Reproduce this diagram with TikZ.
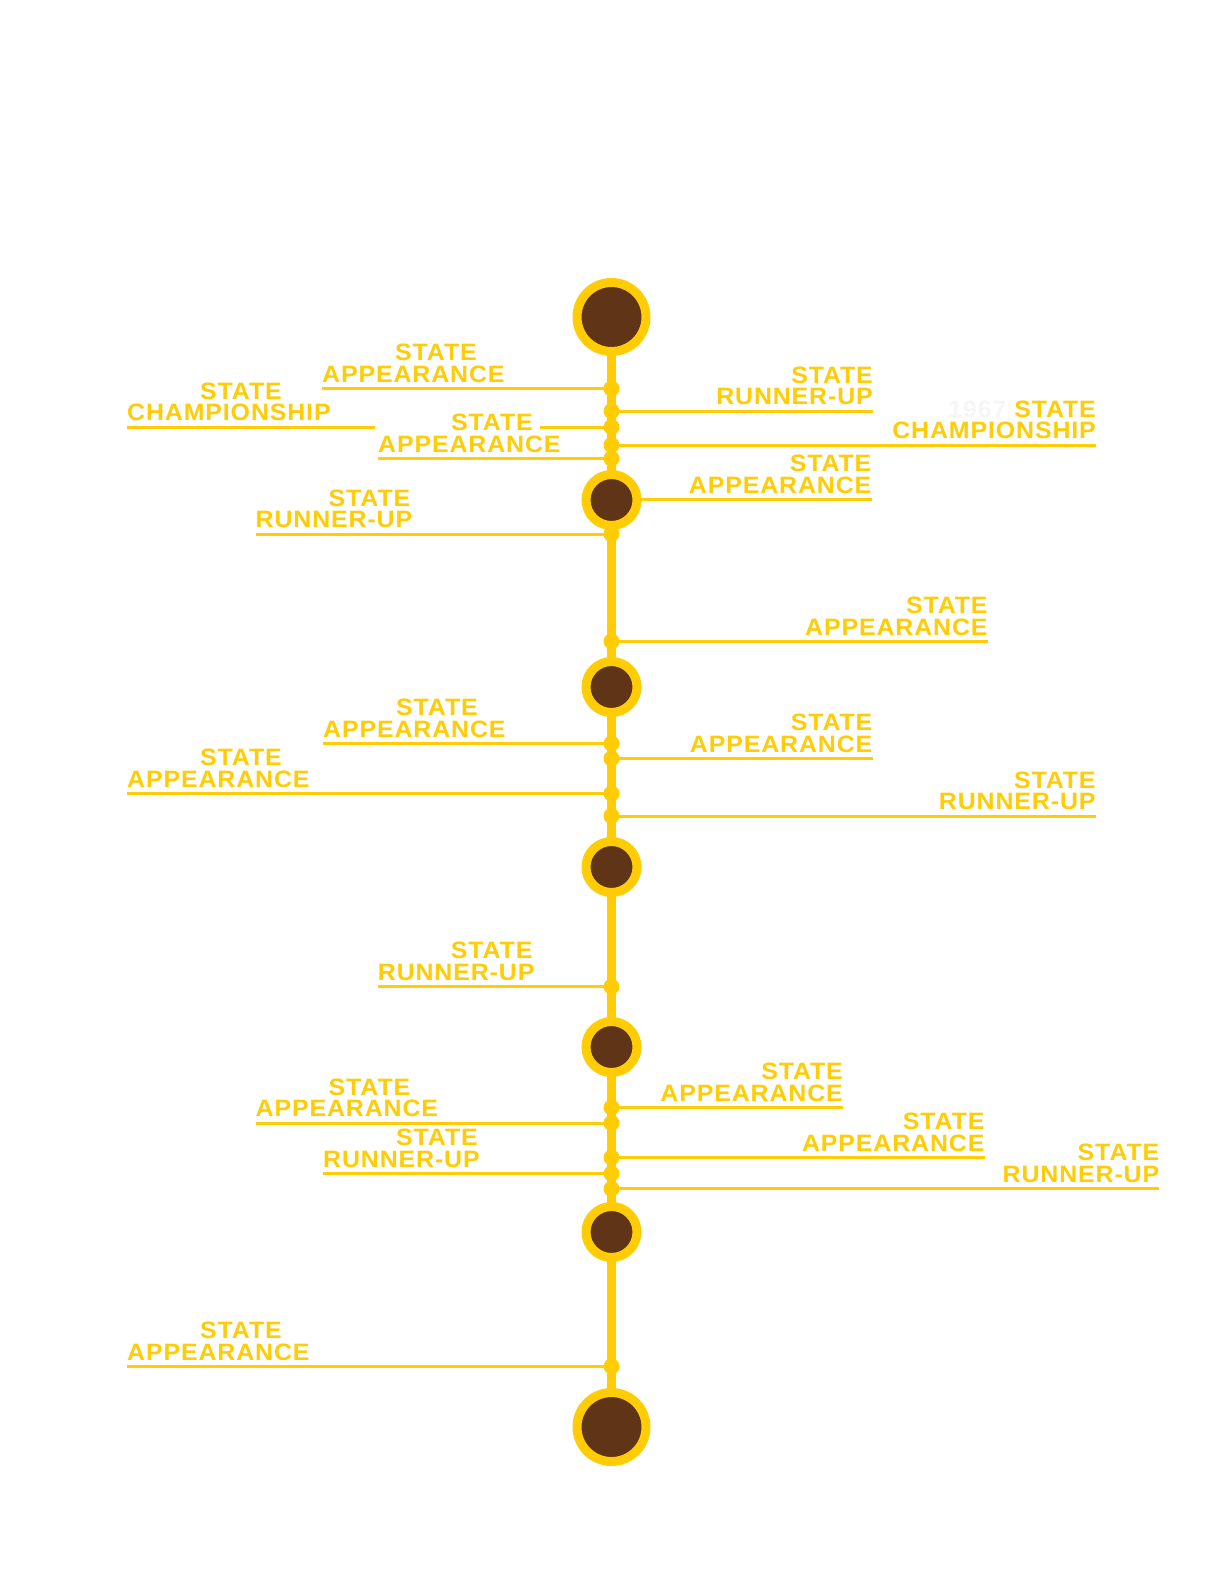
\documentclass[tikz,border=0pt]{standalone}
\usepackage{fontspec}
\usetikzlibrary{backgrounds}
\newfontfamily\labfont{Liberation Sans}[FakeStretch=1.05,LetterSpace=3.8]
\definecolor{gold}{RGB}{255,204,5}
\definecolor{brownc}{RGB}{95,52,23}
\definecolor{yearc}{RGB}{246,246,246}
\newcommand{\twoL}[2]{\vbox{\baselineskip=21.7pt\lineskiplimit=-30pt\hbox{#1}\hbox{#2}}}
\newcommand{\twoR}[2]{\vbox{\baselineskip=21.7pt\lineskiplimit=-30pt\halign{\hfil##\cr#1\cr#2\cr}}}
\begin{document}
\begin{tikzpicture}[x=1pt,y=-1pt,
  spine/.style={draw=gold, line width=9pt},
  tick/.style={draw=gold, line width=3pt},
  dotn/.style={circle, fill=gold, minimum size=16pt, inner sep=0pt},
  bigc/.style={circle, fill=brownc, draw=gold, line width=9pt, minimum size=69pt, inner sep=0pt},
  midc/.style={circle, fill=brownc, draw=gold, line width=9pt, minimum size=51pt, inner sep=0pt},
  labbase/.style={inner sep=0pt, text=gold, font=\labfont\bfseries\fontsize{23.7pt}{21.7pt}\selectfont},
  labl/.style={labbase, anchor=base west},
  labr/.style={labbase, anchor=base east}]
\useasboundingbox (0,0) rectangle (1224,1584);
% milestone circles
\node[bigc] (c0) at (611.5,317) {};
\node[midc] (c1) at (611.5,500) {};
\node[midc] (c2) at (611.5,687) {};
\node[midc] (c3) at (611.5,867) {};
\node[midc] (c4) at (611.5,1047) {};
\node[midc] (c5) at (611.5,1232) {};
\node[bigc] (c6) at (611.5,1427) {};
% left-hand entries
\foreach \n/\y/\x/\b in {L1/388.5/322/APPEARANCE, L2/427/127/CHAMPIONSHIP,
   L3/458.5/378/APPEARANCE, L4/534/255.5/RUNNER-UP, L5/743.5/323/APPEARANCE,
   L6/793.5/127/APPEARANCE, L7/986.7/377.7/RUNNER-UP, L8/1123/255.5/APPEARANCE,
   L9/1173.5/323/RUNNER-UP, L10/1366.4/127/APPEARANCE}{
  \coordinate (s\n) at (\x,\y);
  \node[dotn] (d\n) at (611.5,\y) {};
  \node[labl] (t\n) at ([yshift=6.3pt]s\n) {\twoL{\hskip73pt STATE}{\b}};
}
% right-hand entries
\foreach \n/\y/\x/\b in {R1/411/873/RUNNER-UP, R4/641.3/987.7/APPEARANCE,
   R5/758.5/872.5/APPEARANCE, R6/816/1095.7/RUNNER-UP, R7/1107.5/843/APPEARANCE,
   R8/1157.5/984.6/APPEARANCE, R9/1188.7/1159.4/RUNNER-UP}{
  \coordinate (s\n) at (\x,\y);
  \node[dotn] (d\n) at (611.5,\y) {};
  \node[labr] (t\n) at ([yshift=6.3pt]s\n) {\twoR{STATE}{\b}};
}
\coordinate (sR2) at (1096,445);
\node[dotn] (dR2) at (611.5,445) {};
\node[labr] (tR2) at ([yshift=6.3pt]sR2) {\twoR{{\color{yearc}1967} STATE}{CHAMPIONSHIP}};
\coordinate (sR3) at (871.5,499.5);
\node[labr] (tR3) at ([yshift=6.3pt]sR3) {\twoR{STATE}{APPEARANCE}};
% gap in the L2 rule behind the L3 label
\coordinate (gA) at (375,427);
\coordinate (gB) at (540,427);
\begin{pgfonlayer}{background}
  \fill[white] (0,0) rectangle (1224,1584);
  \draw[spine] (c0.center) -- (c6.center);
  \foreach \n in {L1,L3,L4,L5,L6,L7,L8,L9,L10,R1,R2,R4,R5,R6,R7,R8,R9}
    \draw[tick] (s\n) -- (d\n.center);
  \draw[tick] (sL2) -- (gA);
  \draw[tick] (gB) -- (dL2.center);
  \draw[tick] (sR3) -- (sR3 -| c1.center);
\end{pgfonlayer}
\end{tikzpicture}
\end{document}
